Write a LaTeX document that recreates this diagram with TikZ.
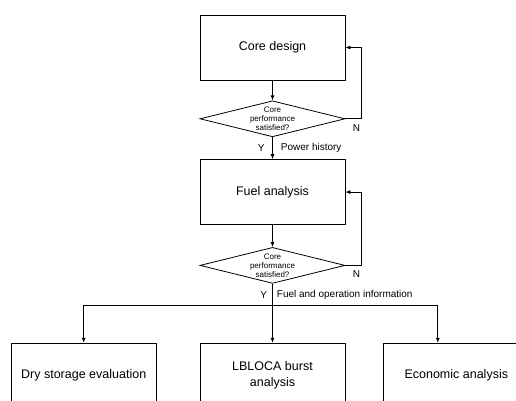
\documentclass[tikz,border=0pt]{standalone}
\usepackage{fontspec}
\setmainfont{Liberation Sans}
\usetikzlibrary{shapes.geometric,positioning,arrows.meta}
\tikzset{box style/.style={
		draw=black,
		line width=0.8pt,
		rectangle,
		minimum width=145pt,
		minimum height=65pt,
		align=center,
		font=\fontsize{12.5}{16}\selectfont,
		inner sep=0pt,
	},
	decision style/.style={
		draw=black,
		line width=0.8pt,
		diamond,
		minimum width=145pt,
		minimum height=36pt,
		inner sep=0pt,
	},
	question style/.style={
		align=center,
		font=\fontsize{8}{9}\selectfont,
		inner sep=0pt,
	},
	edge style/.style={
		text=black,
		inner sep=2pt,
		font=\fontsize{10}{12}\selectfont,
	},
	line style/.style={
		draw=black,
		line width=0.8pt,
		-{Latex[length=5pt,width=4pt]}
	}
}

\begin{document}
\begin{tikzpicture}[x=1pt,y=1pt,node distance=20pt]
	\useasboundingbox (0,0) rectangle (516,-401);
	\clip (0,0) rectangle (516,-401);
	
	\node[box style] (core) at (272.5,-47.5) {Core design};
	
	\node[decision style, below=of core,
		label={[question style]center:{Core\\performance\\satisfied?}}] (check1) {};
	
	\node[box style, below=22pt of check1] (fuel) {Fuel analysis};
	
	\node[decision style, below=22pt of fuel,
		label={[question style]center:{Core\\performance\\satisfied?}}] (check2) {};
	
	\node[box style, below=59pt of check2] (lbloca) {LBLOCA burst\\analysis};
	
	\node[box style, left=43pt of lbloca] (dry) {Dry storage evaluation};
	
	\node[box style, right=38pt of lbloca] (economic) {Economic analysis};
	
	\coordinate[below=22pt of check2.south] (split);
	
	\draw[line style] (core) -- (check1);
	\draw[line style] (check1.east) node[edge style, below right=3pt and 5pt] {N}
		-- ++(16,0) |- (core.east);
	\draw[line style] (check1) -- (fuel)
		node[midway, edge style, left=5.5pt] {Y}
		node[midway, edge style, right=6pt] {Power history};
	
	\draw[line style] (fuel) -- (check2);
	\draw[line style] (check2.east) node[edge style, below right=3pt and 5pt] {N}
		-- ++(16,0) |- (fuel.east);
	\draw[line style] (check2.south) -- (split)
		node[midway, edge style, left=3pt] {Y}
		node[midway, edge style, right=2pt] {Fuel and operation information}
		-- (lbloca.north);
	
	\draw[line style] (split) -| (dry.north);
	\draw[line style] (split) -| ([xshift=-18.5pt]economic.north);
\end{tikzpicture}
\end{document}
